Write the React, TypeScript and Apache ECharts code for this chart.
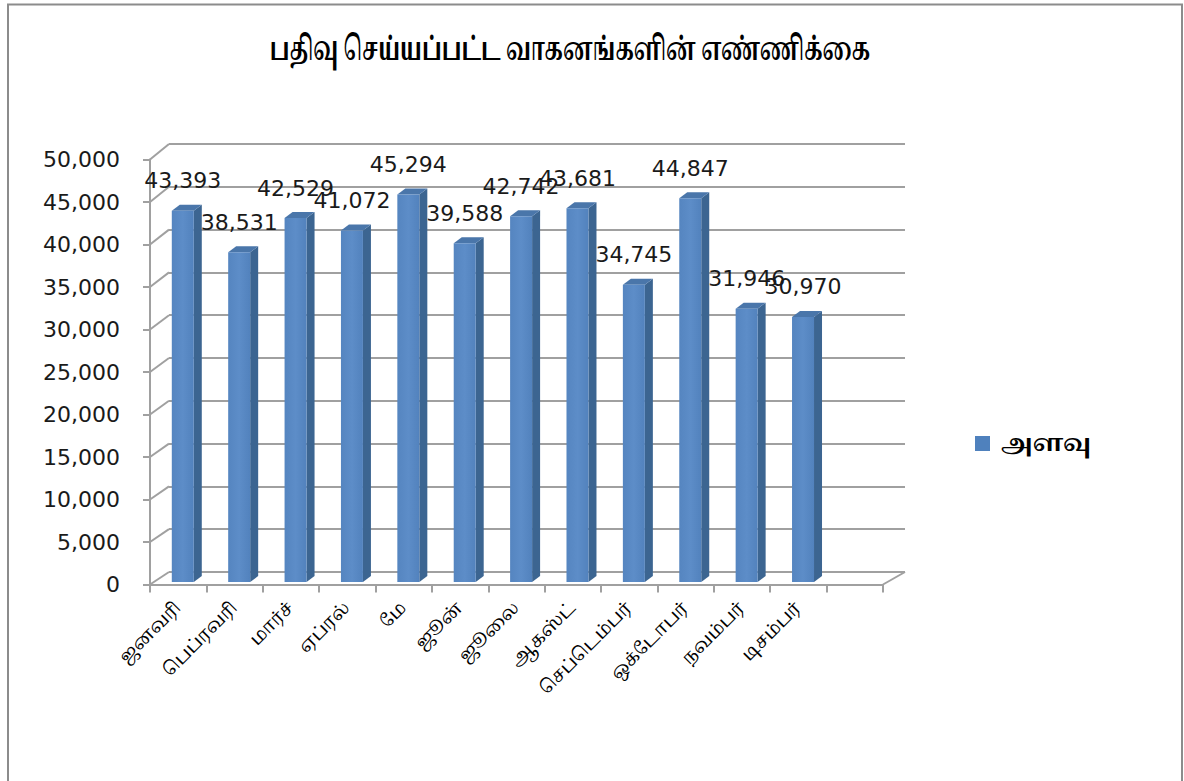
import React, { useEffect, useRef } from "react";
import * as echarts from "echarts";

const title = "பதிவு செய்யப்பட்ட வாகனங்களின் எண்ணிக்கை";
const seriesName = "அளவு";
const categories = [
  "ஜனவரி",
  "பெப்ரவரி",
  "மார்ச்",
  "ஏப்ரல்",
  "மே",
  "ஜூன்",
  "ஜூலை",
  "ஆகஸ்ட்",
  "செப்டெம்பர்",
  "ஒக்டோபர்",
  "நவம்பர்",
  "டிசம்பர்",
  "",
];
const values = [43393, 38531, 42529, 41072, 45294, 39588, 42742, 43681, 34745, 44847, 31946, 30970];
const tickValues = [0, 5000, 10000, 15000, 20000, 25000, 30000, 35000, 40000, 45000, 50000];
const Y_MAX = 50000;
const Y_INTERVAL = 5000;

// layout (pixels)
const FRONT = { left: 150, top: 159.5, width: 733, height: 425 };
const BACK = { left: 169, top: 144, width: 736, height: 428 };
const GRID_COLOR = "#a0a0a0";
const TAMIL = "'Noto Serif Tamil', 'Noto Sans Tamil', Latha, 'Tamil Sangam MN', serif";
const NUM_FONT = "'DejaVu Sans', Verdana, sans-serif";

export default function App() {
  const ref = useRef<HTMLDivElement>(null);
  useEffect(() => {
    if (!ref.current) return;
    const chart = echarts.init(ref.current, undefined, { renderer: "svg" });
    const barDX = 4.6;
    const barDY = -2.5;
    const depthX = 8;
    const depthY = -6;
    const persp = 1.0067;

    const option: any = {
      animation: false,
      backgroundColor: "#ffffff",
      graphic: [
        {
          type: "rect",
          shape: { x: 8, y: 4.5, width: 1174, height: 800 },
          style: { fill: "none", stroke: "#8c8c8c", lineWidth: 2 },
          z: 0,
        },
        {
          type: "text",
          x: 570,
          y: 50,
          scaleX: 0.64,
          style: {
            text: title,
            fontSize: 32,
            fontWeight: "bold",
            fontFamily: TAMIL,
            fill: "#000",
            align: "center",
            verticalAlign: "middle",
          },
        },
      ],
      legend: {
        data: [{ name: seriesName, icon: "rect", itemStyle: { color: "#4f81bd" } }],
        left: 970,
        top: 427,
        itemWidth: 15,
        itemHeight: 15,
        selectedMode: false,
        textStyle: {
          fontSize: 23,
          fontWeight: "bold",
          fontFamily: TAMIL,
          color: "#000",
          padding: [0, 0, 0, 6],
        },
      },
      grid: [
        { left: FRONT.left, top: FRONT.top, width: FRONT.width, height: FRONT.height },
        { left: BACK.left, top: BACK.top, width: BACK.width, height: BACK.height },
      ],
      xAxis: [
        {
          gridIndex: 0,
          type: "category",
          data: categories,
          boundaryGap: true,
          axisLine: { lineStyle: { color: GRID_COLOR, width: 2 } },
          axisTick: { show: true, interval: 0, length: 8, lineStyle: { color: GRID_COLOR, width: 2 } },
          axisLabel: {
            interval: 0,
            rotate: 45,
            margin: 21,
            fontSize: 18,
            fontFamily: TAMIL,
            color: "#000",
          },
        },
        { gridIndex: 1, type: "category", data: categories, show: false },
      ],
      yAxis: [
        {
          gridIndex: 0,
          type: "value",
          min: 0,
          max: Y_MAX,
          interval: Y_INTERVAL,
          axisLine: { show: true, lineStyle: { color: GRID_COLOR, width: 2 } },
          axisTick: { show: true, length: 7, lineStyle: { color: GRID_COLOR, width: 2 } },
          splitLine: { show: false },
          axisLabel: {
            margin: 30,
            fontSize: 22,
            fontFamily: NUM_FONT,
            color: "#1a1a1a",
            formatter: (v: number) => v.toLocaleString("en-US"),
          },
        },
        {
          gridIndex: 1,
          type: "value",
          min: 0,
          max: Y_MAX,
          interval: Y_INTERVAL,
          axisLine: { show: false },
          axisTick: { show: false },
          axisLabel: { show: false },
          splitLine: { show: true, lineStyle: { color: GRID_COLOR, width: 2 } },
        },
      ],
      series: [
        {
          type: "custom",
          name: "walls",
          xAxisIndex: 0,
          yAxisIndex: 0,
          silent: true,
          clip: false,
          z: 1,
          data: tickValues.map((v) => [0, v]),
          renderItem: (params: any, api: any) => {
            const v = api.value(1);
            const cs = params.coordSys;
            const p = api.coord([0, v]);
            const backY = BACK.top + BACK.height * (1 - v / Y_MAX);
            const children: any[] = [
              {
                type: "line",
                shape: { x1: cs.x, y1: p[1], x2: BACK.left, y2: backY },
                style: { stroke: GRID_COLOR, lineWidth: 2 },
              },
            ];
            if (v === 0) {
              children.push({
                type: "line",
                shape: {
                  x1: cs.x + cs.width,
                  y1: cs.y + cs.height,
                  x2: BACK.left + BACK.width,
                  y2: BACK.top + BACK.height,
                },
                style: { stroke: GRID_COLOR, lineWidth: 2 },
              });
            }
            return { type: "group", children };
          },
        },
        {
          type: "custom",
          name: seriesName,
          xAxisIndex: 0,
          yAxisIndex: 0,
          clip: false,
          z: 5,
          itemStyle: { color: "#4f81bd" },
          encode: { x: 0, y: 1 },
          data: values.map((v, i) => [i, v]),
          renderItem: (params: any, api: any) => {
            const i = api.value(0);
            const v = api.value(1);
            const base = api.coord([i, 0]);
            const top = api.coord([i, v]);
            const slot = api.size([1, 0])[0];
            const w = slot * 0.39;
            const cx = base[0] + barDX;
            const yb = base[1] + barDY;
            const yt = yb - (base[1] - top[1]) * persp;
            const xl = cx - w / 2;
            const xr = cx + w / 2;
            return {
              type: "group",
              children: [
                {
                  type: "polygon",
                  shape: {
                    points: [
                      [xr, yb],
                      [xr + depthX, yb + depthY],
                      [xr + depthX, yt + depthY],
                      [xr, yt],
                    ],
                  },
                  style: { fill: "#3c6591" },
                },
                {
                  type: "polygon",
                  shape: {
                    points: [
                      [xl, yt],
                      [xr, yt],
                      [xr + depthX, yt + depthY],
                      [xl + depthX, yt + depthY],
                    ],
                  },
                  style: { fill: "#4a76aa" },
                },
                {
                  type: "rect",
                  shape: { x: xl, y: yt, width: w, height: yb - yt },
                  style: {
                    fill: {
                      type: "linear",
                      x: 0,
                      y: 0,
                      x2: 1,
                      y2: 0,
                      colorStops: [
                        { offset: 0, color: "#5585c0" },
                        { offset: 0.5, color: "#5d8dc8" },
                        { offset: 1, color: "#5282bd" },
                      ],
                    },
                  },
                },
                {
                  type: "text",
                  x: cx,
                  y: yt - 30,
                  z2: 10,
                  style: {
                    text: v.toLocaleString("en-US"),
                    fontSize: 22,
                    fontFamily: NUM_FONT,
                    fill: "#1a1a1a",
                    align: "center",
                    verticalAlign: "middle",
                  },
                },
              ],
            };
          },
        },
      ],
    };
    chart.setOption(option);
    return () => chart.dispose();
  }, []);
  return (
    <div
      ref={ref}
      style={{ position: "absolute", left: 0, top: 0, width: 1184, height: 781 }}
    />
  );
}
